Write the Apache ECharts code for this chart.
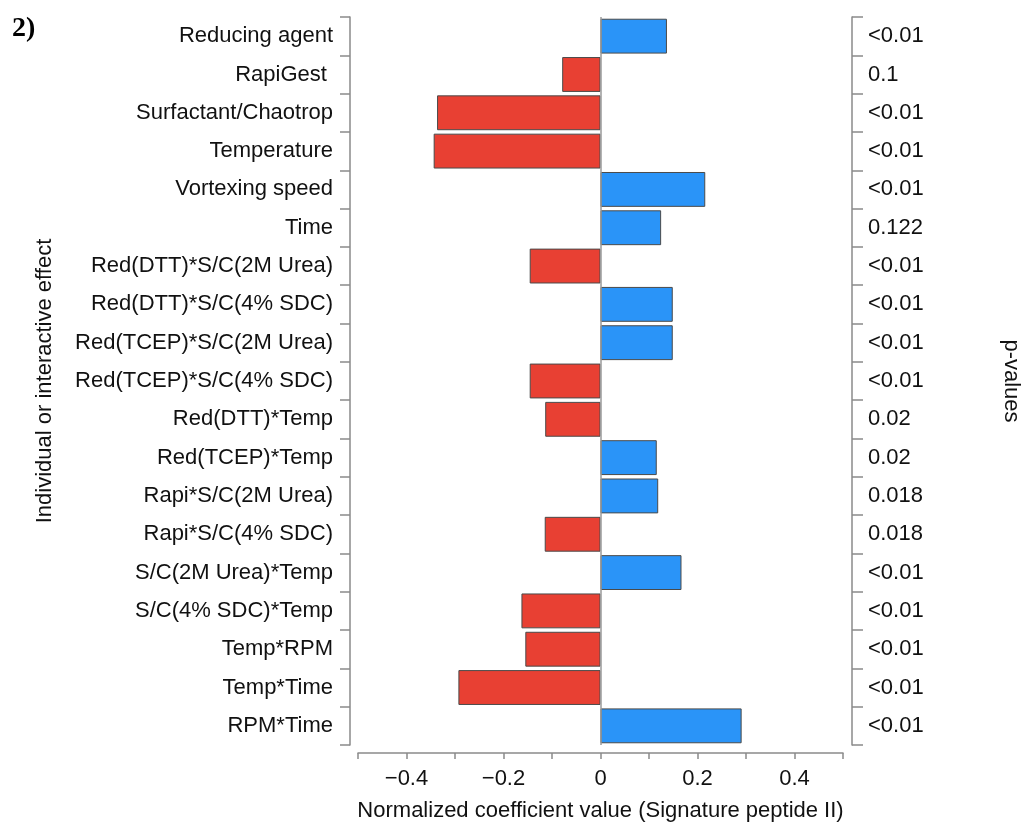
<!DOCTYPE html>
<html>
<head>
<meta charset="utf-8">
<script src="https://cdn.jsdelivr.net/npm/echarts@6/dist/echarts.min.js"></script>
<style>
html,body{margin:0;padding:0;background:#fff;}
#c{width:1023px;height:827px;}
</style>
</head>
<body>
<div id="c"></div>
<script>
const categories = [
  "Reducing agent", "RapiGest ", "Surfactant/Chaotrop", "Temperature", "Vortexing speed", "Time",
  "Red(DTT)*S/C(2M Urea)", "Red(DTT)*S/C(4% SDC)", "Red(TCEP)*S/C(2M Urea)", "Red(TCEP)*S/C(4% SDC)",
  "Red(DTT)*Temp", "Red(TCEP)*Temp", "Rapi*S/C(2M Urea)", "Rapi*S/C(4% SDC)",
  "S/C(2M Urea)*Temp", "S/C(4% SDC)*Temp", "Temp*RPM", "Temp*Time", "RPM*Time"
];
const coefficients = [
  0.137, -0.079, -0.337, -0.344, 0.216, 0.125,
  -0.146, 0.149, 0.149, -0.146,
  -0.114, 0.116, 0.119, -0.115,
  0.167, -0.163, -0.155, -0.293, 0.291
];
const pValues = [
  "<0.01", "0.1", "<0.01", "<0.01", "<0.01", "0.122",
  "<0.01", "<0.01", "<0.01", "<0.01",
  "0.02", "0.02", "0.018", "0.018",
  "<0.01", "<0.01", "<0.01", "<0.01", "<0.01"
];
const xTickLabels = { "-0.4": "\u22120.4", "-0.2": "\u22120.2", "0": "0", "0.2": "0.2", "0.4": "0.4" };

const FONT = "Liberation Sans, Arial, Helvetica, sans-serif";
const FS = 22;
const AXIS_COLOR = "#8a8a8a";
const RED = "#E84033";
const BLUE = "#2A94F8";

const chart = echarts.init(document.getElementById('c'), null, { renderer: 'canvas' });
chart.setOption({
  animation: false,
  backgroundColor: '#ffffff',
  textStyle: { fontFamily: FONT },
  grid: { left: 358, right: 180, top: 17, bottom: 79, containLabel: false },
  xAxis: {
    type: 'value', min: -0.5, max: 0.5, interval: 0.1,
    offset: 8,
    name: 'Normalized coefficient value (Signature peptide II)',
    nameLocation: 'middle', nameGap: 47,
    nameTextStyle: { fontSize: FS, color: '#111', fontFamily: FONT },
    axisLine: { show: true, onZero: false, lineStyle: { color: AXIS_COLOR, width: 1.5 } },
    axisTick: { show: true, length: 6, lineStyle: { color: AXIS_COLOR, width: 1.5 } },
    splitLine: { show: false },
    axisLabel: {
      fontSize: FS, color: '#111', margin: 15, fontFamily: FONT,
      showMinLabel: true, showMaxLabel: true,
      formatter: function (v) {
        const k = String(Math.round(v * 10) / 10);
        return xTickLabels[k] !== undefined ? xTickLabels[k] : '';
      }
    }
  },
  yAxis: [
    {
      type: 'category', data: categories, inverse: true, position: 'left', offset: 8,
      name: 'Individual or interactive effect', nameLocation: 'middle', nameGap: 294,
      nameTextStyle: { fontSize: FS, color: '#111', fontFamily: FONT },
      axisLine: { show: true, onZero: false, lineStyle: { color: AXIS_COLOR, width: 1.5 } },
      axisTick: { show: true, length: 10, alignWithLabel: false, lineStyle: { color: AXIS_COLOR, width: 1.5 } },
      axisLabel: { fontSize: FS, color: '#111', margin: 17, fontFamily: FONT, interval: 0 },
      splitLine: { show: false }
    },
    {
      type: 'category', data: categories, inverse: true, position: 'right', offset: 9,
      name: 'p-values', nameLocation: 'middle', nameGap: 148, nameRotate: -90,
      nameTextStyle: { fontSize: FS, color: '#111', fontFamily: FONT },
      axisLine: { show: true, onZero: false, lineStyle: { color: AXIS_COLOR, width: 1.5 } },
      axisTick: { show: true, length: 11, lineStyle: { color: AXIS_COLOR, width: 1.5 } },
      axisLabel: {
        fontSize: FS, color: '#111', margin: 16, fontFamily: FONT, interval: 0,
        formatter: function (v, i) { return pValues[i]; }
      },
      splitLine: { show: false }
    }
  ],
  series: [{
    type: 'bar', yAxisIndex: 0,
    data: coefficients,
    barCategoryGap: '9%',
    itemStyle: {
      color: function (p) { return p.value < 0 ? RED : BLUE; },
      borderColor: '#4a4a4a', borderWidth: 1
    },
    markLine: {
      silent: true, symbol: 'none', label: { show: false },
      lineStyle: { color: '#9a9a9a', width: 1.5, type: 'solid' },
      data: [{ xAxis: 0 }]
    }
  }],
  graphic: [{
    type: 'text', left: 12, top: 15,
    style: { text: '2)', font: 'bold 28px "Liberation Serif", "Times New Roman", serif', fill: '#000' }
  }]
});
</script>
</body>
</html>
